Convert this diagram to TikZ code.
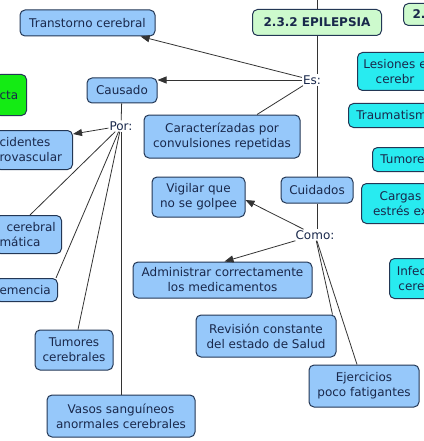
\documentclass[tikz,border=0pt]{standalone}
\usepackage{fontspec}
\setmainfont{DejaVu Sans}
\usepackage{xcolor}
\usetikzlibrary{arrows.meta}
\definecolor{conceptblue}{RGB}{150,200,250}
\definecolor{conceptcyan}{RGB}{40,235,240}
\definecolor{conceptgreen}{RGB}{205,250,205}
\definecolor{brightgreen}{RGB}{20,235,20}
\definecolor{borderdark}{RGB}{35,55,85}
\definecolor{textdark}{RGB}{25,40,75}
\begin{document}
\begin{tikzpicture}[x=1pt,y=-1pt,
	concept/.style={draw=borderdark,line width=1pt,rounded corners=5pt,fill=conceptblue,text=textdark,align=center,inner sep=0pt,font=\fontsize{12}{15}\selectfont},
	cutleft/.style={concept,anchor=north east,align=left,inner xsep=4pt},
	cutright/.style={concept,fill=conceptcyan,anchor=north west,inner xsep=4pt},
	linkphrase/.style={fill=white,text=textdark,inner sep=1pt,font=\fontsize{12}{15}\selectfont},
	link/.style={draw=black!80,line width=0.8pt},
	linkarrow/.style={link,-{Triangle[length=9pt,width=7pt]}}]
					\useasboundingbox (0,0) rectangle (423,441);
					\node[concept,minimum width=135pt,minimum height=26pt] (transtorno) at (87.5,23) {Transtorno cerebral};
					\node[concept,fill=conceptgreen,font=\fontsize{12}{15}\selectfont\bfseries,minimum width=129pt,minimum height=26pt] (epilepsia) at (317,22.5) {2.3.2 EPILEPSIA};
					\node[concept,fill=conceptgreen,anchor=north west,align=left,text width=30pt,inner xsep=9pt,minimum height=22pt,font=\fontsize{12}{15}\selectfont\bfseries] (siguiente) at (403,3) {2.};
					\node[cutleft,fill=brightgreen,text width=23pt,minimum height=41pt] (verde) at (27,74) {cta};
					\node[concept,minimum width=70pt,minimum height=25pt] (causado) at (122,90.5) {Causado};
					\node[concept,minimum width=156pt,minimum height=43pt] (caracterizadas) at (222,136.5) {Caracterízadas por\\convulsiones repetidas};
					\node[cutleft,text width=69pt,minimum height=39pt] (accidentes) at (73,130) {cidentes\\rovascular};
					\node[cutleft,text width=58pt,minimum height=38pt] (lesion) at (62,215) {\hspace*{7pt}cerebral\\mática};
					\node[cutleft,text width=54pt,minimum height=23pt] (demencia) at (58,278) {emencia};
					\node[concept,minimum width=78pt,minimum height=40pt] (tumores) at (74,350) {Tumores\\cerebrales};
					\node[concept,minimum width=148pt,minimum height=42pt] (vasos) at (121,416) {Vasos sanguíneos\\anormales cerebrales};
					\node[concept,minimum width=72pt,minimum height=26pt] (cuidados) at (317,190) {Cuidados};
					\node[concept,minimum width=93pt,minimum height=40pt] (vigilar) at (198.5,197) {Vigilar que\\no se golpee};
					\node[concept,minimum width=179pt,minimum height=36pt] (administrar) at (222.5,280) {Administrar correctamente\\los medicamentos};
					\node[concept,minimum width=140pt,minimum height=42pt] (revision) at (266,336) {Revisión constante\\del estado de Salud};
					\node[concept,minimum width=110pt,minimum height=42pt] (ejercicios) at (364,386) {Ejercicios\\poco fatigantes};
					\node[cutright,text width=67pt,minimum height=38pt] (lesiones) at (357,52) {Lesiones e\\cerebr};
					\node[cutright,text width=78pt,minimum height=24pt] (traumatismo) at (348,103) {Traumatism};
					\node[cutright,text width=52pt,minimum height=24pt] (tumorescyan) at (372,147) {Tumore};
					\node[cutright,text width=70pt,minimum height=40pt] (cargas) at (361,183) {Cargas\\estrés ex};
					\node[cutright,text width=36pt,minimum height=40pt] (infecciones) at (389,258) {Infec\\cere};
					\node[linkphrase] (es) at (312,80) {Es:};
					\node[linkphrase] (por) at (121,126) {Por:};
					\node[linkphrase] (como) at (315,235) {Como:};
					\coordinate (arriba) at (317,0);
					\draw[link] (arriba) -- (epilepsia);
					\draw[link] (epilepsia) -- (epilepsia |- es.north);
					\draw[link] (cuidados |- es.south) -- (cuidados);
					\draw[linkarrow] (es) -- (transtorno);
					\draw[linkarrow] (es.west) -- (causado.east |- es.west);
					\draw[link] (es) -- (caracterizadas);
					\draw[link] (cuidados) -- (cuidados |- como.north);
					\draw[linkarrow] (como) -- ([yshift=-3pt]vigilar.east);
					\draw[linkarrow] (como) -- ([xshift=2pt]administrar.north);
					\draw[link] (como) -- ([xshift=-4pt]revision.north east);
					\draw[link] (como) -- ([xshift=-7pt]ejercicios.north);
					\draw[link] (causado) -- (por);
					\draw[linkarrow] (por) -- ([yshift=-4pt]accidentes.north east);
					\draw[link] (por) -- ([xshift=-32pt]lesion.north east);
					\draw[link] (por) -- ([xshift=-2pt]demencia.north east);
					\draw[link] (por) -- ([xshift=4pt]tumores.north);
					\draw[link] (por) -- (vasos);
\end{tikzpicture}
\end{document}
